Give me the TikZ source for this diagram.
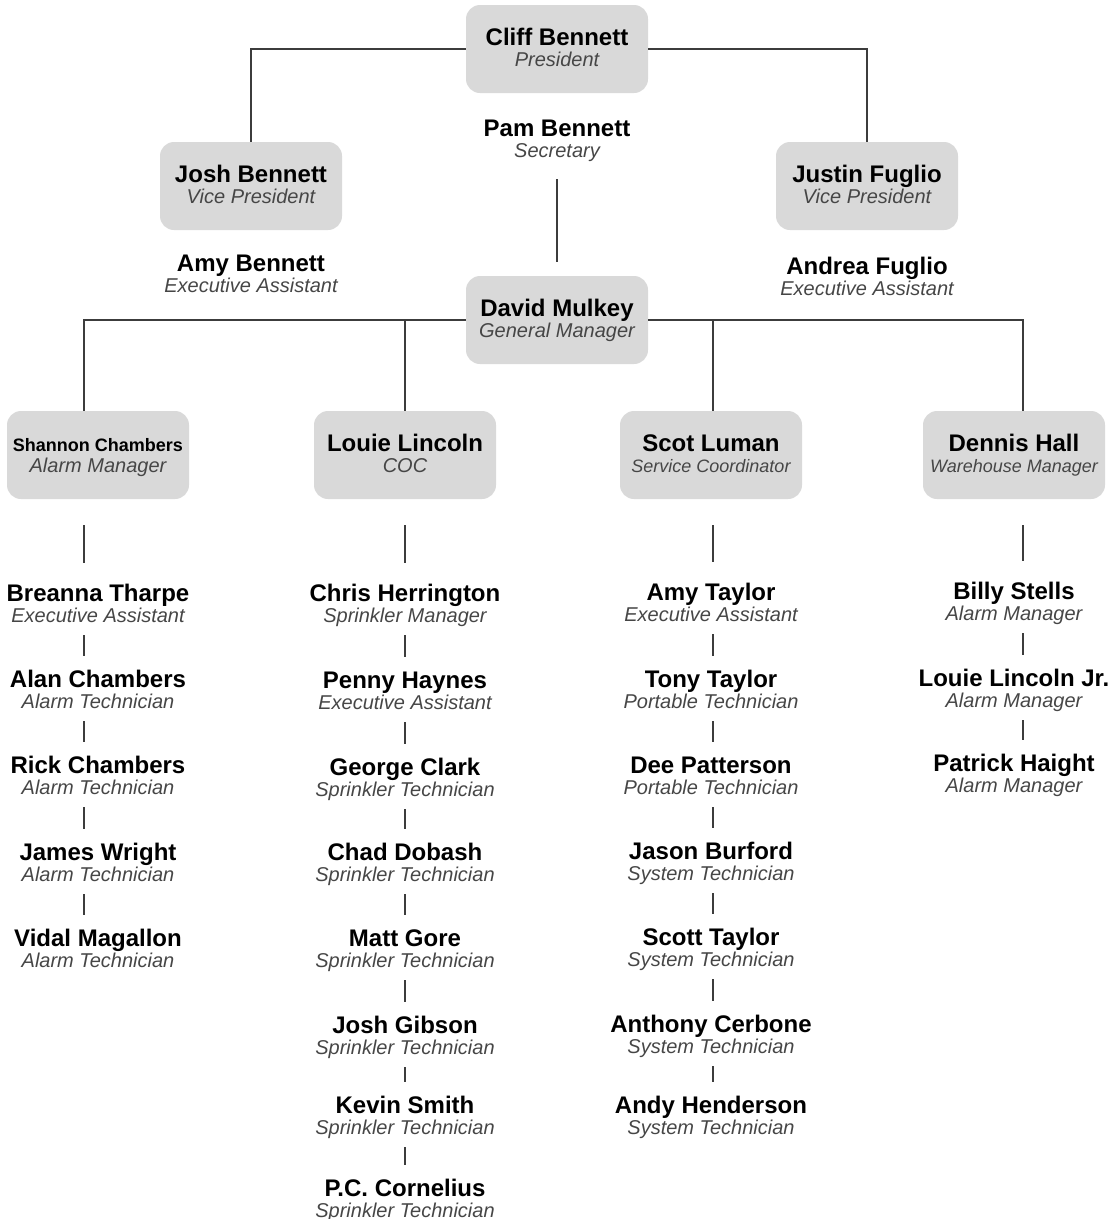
\documentclass[tikz,border=0pt]{standalone}
\usepackage{fontspec}
\setmainfont{Liberation Sans}
\usepackage{tikz}
\usetikzlibrary{positioning}
\definecolor{boxgray}{RGB}{217,217,217}
\definecolor{linegray}{RGB}{60,60,60}
\definecolor{rolegray}{RGB}{70,70,70}
\newcommand{\namefont}{\fontsize{24}{21}\selectfont\bfseries}
\newcommand{\rolefont}{\fontsize{20}{21}\selectfont\itshape\color{rolegray}}
\newcommand{\smallname}{\fontsize{18}{21}\selectfont}
\newcommand{\smallrole}{\fontsize{18}{21}\selectfont}
\newcommand{\pers}[2]{{\namefont\rule{0pt}{18pt}#1}\\{\rolefont #2\rule[-5pt]{0pt}{5pt}}}
\tikzstyle{staff}=[align=center, inner sep=0pt,
                   font=\fontsize{20}{21}\selectfont]
\tikzstyle{head} =[staff, fill=boxgray, rounded corners=14pt,
                   minimum width=182pt, minimum height=88pt]
\tikzstyle{link} =[draw=linegray, line width=1.4pt]
\tikzstyle{chain}=[link, shorten <=8pt, shorten >=13pt]
\tikzstyle{drop} =[link, shorten <=26pt, shorten >=20pt]
\begin{document}
\begin{tikzpicture}[x=1pt, y=-1pt, node distance=86pt, on grid]
                \useasboundingbox (0,0) rectangle (1114,1219);

                % owners
                \node[head] (cliff) at (557,49) {\pers{Cliff Bennett}{President}};
                \node[staff] (pam) [below=91pt of cliff] {\pers{Pam Bennett}{Secretary}};
                \node[head] (josh) at (251,186) {\pers{Josh Bennett}{Vice President}};
                \node[staff] (amy) [below=89pt of josh] {\pers{Amy Bennett}{Executive Assistant}};
                \node[head] (justin) at (867,186) {\pers{Justin Fuglio}{Vice President}};
                \node[staff] (andrea) [below=92pt of justin] {\pers{Andrea Fuglio}{Executive Assistant}};
                \node[head] (david) at (557,320) {\pers{David Mulkey}{General Manager}};

                % department heads
                \node[head] (shannon) at (98,455) {\pers{\smallname Shannon Chambers}{Alarm Manager}};
                \node[head] (louie) at (405,455) {\pers{Louie Lincoln}{COC}};
                \node[head] (scot) at (711,455) {\pers{Scot Luman}{\smallrole Service Coordinator}};
                \node[head] (dennis) at (1014,455) {\pers{Dennis Hall}{\smallrole Warehouse Manager}};

                % alarm
                \node[staff] (breanna) [below=150pt of shannon] {\pers{Breanna Tharpe}{Executive Assistant}};
                \node[staff] (alan) [below=of breanna] {\pers{Alan Chambers}{Alarm Technician}};
                \node[staff] (rick) [below=of alan] {\pers{Rick Chambers}{Alarm Technician}};
                \node[staff] (james) [below=87pt of rick] {\pers{James Wright}{Alarm Technician}};
                \node[staff] (vidal) [below=of james] {\pers{Vidal Magallon}{Alarm Technician}};

                % sprinkler
                \node[staff] (chris) [below=150pt of louie] {\pers{Chris Herrington}{Sprinkler Manager}};
                \node[staff] (penny) [below=87pt of chris] {\pers{Penny Haynes}{Executive Assistant}};
                \node[staff] (george) [below=87pt of penny] {\pers{George Clark}{Sprinkler Technician}};
                \node[staff] (chad) [below=85pt of george] {\pers{Chad Dobash}{Sprinkler Technician}};
                \node[staff] (matt) [below=of chad] {\pers{Matt Gore}{Sprinkler Technician}};
                \node[staff] (gibson) [below=87pt of matt] {\pers{Josh Gibson}{Sprinkler Technician}};
                \node[staff] (kevin) [below=80pt of gibson] {\pers{Kevin Smith}{Sprinkler Technician}};
                \node[staff] (pc) [below=83pt of kevin] {\pers{P.C. Cornelius}{Sprinkler Technician}};

                % service
                \node[staff] (amyt) [below=149pt of scot] {\pers{Amy Taylor}{Executive Assistant}};
                \node[staff] (tony) [below=87pt of amyt] {\pers{Tony Taylor}{Portable Technician}};
                \node[staff] (dee) [below=of tony] {\pers{Dee Patterson}{Portable Technician}};
                \node[staff] (jason) [below=of dee] {\pers{Jason Burford}{System Technician}};
                \node[staff] (scott) [below=of jason] {\pers{Scott Taylor}{System Technician}};
                \node[staff] (anthony) [below=87pt of scott] {\pers{Anthony Cerbone}{System Technician}};
                \node[staff] (andy) [below=81pt of anthony] {\pers{Andy Henderson}{System Technician}};

                % warehouse
                \node[staff] (billy) [below=148pt of dennis] {\pers{Billy Stells}{Alarm Manager}};
                \node[staff] (louiejr) [below=87pt of billy] {\pers{Louie Lincoln Jr.}{Alarm Manager}};
                \node[staff] (patrick) [below=85pt of louiejr] {\pers{Patrick Haight}{Alarm Manager}};

                \draw[link] (cliff.west) -| (josh.north);
                \draw[link] (cliff.east) -| (justin.north);
                \draw[link, shorten <=17pt, shorten >=14pt] (pam) -- (david);
                \draw[link] (david.west) -| ([xshift=-14pt]shannon.north);
                \draw[link] (david.west) -| (louie.north);
                \draw[link] (david.east) -| ([xshift=2pt]scot.north);
                \draw[link] (david.east) -| ([xshift=9pt]dennis.north);

                \draw[drop] ([xshift=-14pt]shannon.south) -- ([xshift=-14pt]breanna.north);
                \draw[chain] ([xshift=-14pt]breanna.south) -- ([xshift=-14pt]alan.north);
                \draw[chain] ([xshift=-14pt]alan.south) -- ([xshift=-14pt]rick.north);
                \draw[chain] ([xshift=-14pt]rick.south) -- ([xshift=-14pt]james.north);
                \draw[chain] ([xshift=-14pt]james.south) -- ([xshift=-14pt]vidal.north);

                \draw[drop] (louie) -- (chris);
                \draw[chain] (chris) -- (penny);
                \draw[chain] (penny) -- (george);
                \draw[chain] (george) -- (chad);
                \draw[chain] (chad) -- (matt);
                \draw[chain] (matt) -- (gibson);
                \draw[chain] (gibson) -- (kevin);
                \draw[chain] (kevin) -- (pc);

                \draw[drop] ([xshift=2pt]scot.south) -- ([xshift=2pt]amyt.north);
                \draw[chain] ([xshift=2pt]amyt.south) -- ([xshift=2pt]tony.north);
                \draw[chain] ([xshift=2pt]tony.south) -- ([xshift=2pt]dee.north);
                \draw[chain] ([xshift=2pt]dee.south) -- ([xshift=2pt]jason.north);
                \draw[chain] ([xshift=2pt]jason.south) -- ([xshift=2pt]scott.north);
                \draw[chain] ([xshift=2pt]scott.south) -- ([xshift=2pt]anthony.north);
                \draw[chain] ([xshift=2pt]anthony.south) -- ([xshift=2pt]andy.north);

                \draw[drop] ([xshift=9pt]dennis.south) -- ([xshift=9pt]billy.north);
                \draw[chain] ([xshift=9pt]billy.south) -- ([xshift=9pt]louiejr.north);
                \draw[chain] ([xshift=9pt]louiejr.south) -- ([xshift=9pt]patrick.north);
\end{tikzpicture}
\end{document}
